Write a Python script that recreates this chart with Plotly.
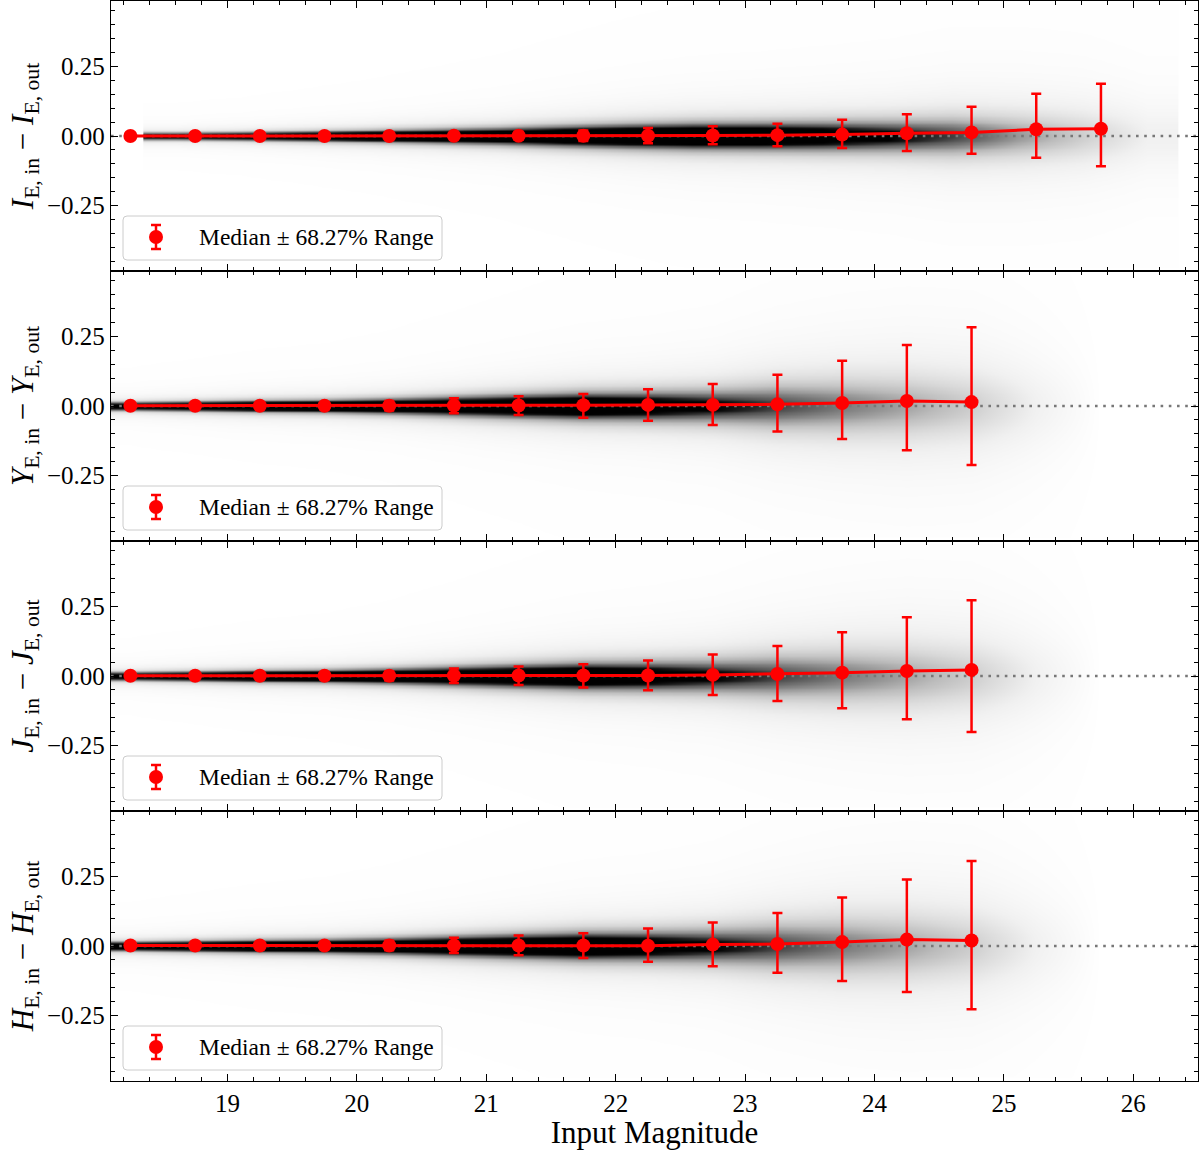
import numpy as np
import plotly.graph_objects as go
from plotly.subplots import make_subplots

# ---------------- data ----------------
X_RANGE = [18.1, 26.5]
Y_RANGE = [-0.485, 0.485]

# I band (top panel)
mags_I = [18.25, 18.75, 19.25, 19.75, 20.25, 20.75, 21.25, 21.75,
          22.25, 22.75, 23.25, 23.75, 24.25, 24.75, 25.25, 25.75]
med_I = [0.000, 0.000, 0.000, 0.000, 0.000, 0.001, 0.001, 0.001,
         0.001, 0.002, 0.003, 0.005, 0.010, 0.013, 0.024, 0.026]
upper_I = [0.004, 0.004, 0.005, 0.006, 0.008, 0.011, 0.014, 0.020,
           0.029, 0.035, 0.044, 0.058, 0.078, 0.105, 0.152, 0.188]
lower_I = [-0.004, -0.004, -0.005, -0.006, -0.007, -0.010, -0.013, -0.018,
           -0.026, -0.030, -0.037, -0.043, -0.054, -0.064, -0.078, -0.109]

# Y band
mags_Y = [18.25, 18.75, 19.25, 19.75, 20.25, 20.75, 21.25,
          21.75, 22.25, 22.75, 23.25, 23.75, 24.25, 24.75]
med_Y = [0.001, 0.001, 0.001, 0.001, 0.001, 0.002, 0.002,
         0.003, 0.004, 0.004, 0.006, 0.011, 0.018, 0.014]
upper_Y = [0.006, 0.007, 0.009, 0.012, 0.018, 0.028, 0.035,
           0.043, 0.060, 0.079, 0.112, 0.163, 0.219, 0.283]
lower_Y = [-0.005, -0.006, -0.008, -0.011, -0.016, -0.026, -0.032,
           -0.042, -0.053, -0.068, -0.092, -0.119, -0.159, -0.212]

# J band
mags_J = mags_Y
med_J = [0.001, 0.001, 0.001, 0.001, 0.001, 0.002, 0.002,
         0.002, 0.002, 0.004, 0.007, 0.012, 0.018, 0.022]
upper_J = [0.006, 0.007, 0.009, 0.012, 0.017, 0.027, 0.034,
           0.042, 0.056, 0.077, 0.108, 0.157, 0.211, 0.272]
lower_J = [-0.005, -0.006, -0.008, -0.011, -0.016, -0.025, -0.032,
           -0.041, -0.051, -0.068, -0.090, -0.116, -0.155, -0.201]

# H band
mags_H = mags_Y
med_H = [0.002, 0.002, 0.002, 0.002, 0.002, 0.002, 0.002,
         0.002, 0.001, 0.005, 0.007, 0.014, 0.023, 0.020]
upper_H = [0.007, 0.008, 0.010, 0.013, 0.019, 0.030, 0.038,
           0.046, 0.063, 0.084, 0.119, 0.174, 0.239, 0.305]
lower_H = [-0.004, -0.005, -0.007, -0.010, -0.015, -0.025, -0.033,
           -0.043, -0.057, -0.073, -0.096, -0.126, -0.165, -0.227]

# density background: column centres, core width (mag) and darkness level
hist_x_I = [18.6, 19.1, 19.6, 20.1, 20.6, 21.1, 21.6, 22.1,
            22.6, 23.1, 23.6, 24.1, 24.6, 25.1, 25.6, 26.1]
hist_w_I = [0.006, 0.007, 0.008, 0.009, 0.011, 0.013, 0.016, 0.020,
            0.024, 0.028, 0.035, 0.045, 0.060, 0.075, 0.090, 0.110]
hist_a_I = [3.0, 3.0, 3.5, 4.0, 4.0, 4.0, 4.0, 3.5,
            3.0, 2.4, 1.7, 1.15, 0.8, 0.5, 0.30, 0.12]

hist_x_YJH = [18.25, 18.75, 19.25, 19.75, 20.25, 20.75, 21.25, 21.75,
              22.25, 22.75, 23.25, 23.75, 24.25, 24.75, 25.25, 25.75]
hist_w_Y = [0.007, 0.008, 0.009, 0.010, 0.012, 0.016, 0.021, 0.027,
            0.035, 0.048, 0.070, 0.090, 0.110, 0.130, 0.150, 0.160]
hist_a_Y = [3.0, 3.5, 4.0, 4.0, 4.0, 3.5, 3.0, 2.5,
            1.7, 1.1, 0.8, 0.6, 0.45, 0.30, 0.12, 0.0]
hist_w_J = [0.007, 0.008, 0.009, 0.010, 0.012, 0.016, 0.021, 0.027,
            0.035, 0.048, 0.068, 0.088, 0.108, 0.128, 0.150, 0.160]
hist_a_J = [3.0, 3.5, 4.0, 4.0, 4.0, 3.5, 3.0, 2.5,
            1.7, 1.1, 0.8, 0.6, 0.45, 0.30, 0.12, 0.0]
hist_w_H = [0.008, 0.009, 0.010, 0.011, 0.013, 0.017, 0.022, 0.028,
            0.036, 0.050, 0.072, 0.095, 0.115, 0.135, 0.155, 0.165]
hist_a_H = [3.0, 3.5, 4.0, 4.0, 4.0, 3.5, 3.0, 2.5,
            1.7, 1.1, 0.8, 0.6, 0.45, 0.30, 0.12, 0.0]

labels = [
    "<i>I</i><sub>E, in</sub> − <i>I</i><sub>E, out</sub>",
    "<i>Y</i><sub>E, in</sub> − <i>Y</i><sub>E, out</sub>",
    "<i>J</i><sub>E, in</sub> − <i>J</i><sub>E, out</sub>",
    "<i>H</i><sub>E, in</sub> − <i>H</i><sub>E, out</sub>",
]
LEGEND_TEXT = "Median ± 68.27% Range"

bands = [
    (mags_I, med_I, upper_I, lower_I, hist_x_I, hist_w_I, hist_a_I),
    (mags_Y, med_Y, upper_Y, lower_Y, hist_x_YJH, hist_w_Y, hist_a_Y),
    (mags_J, med_J, upper_J, lower_J, hist_x_YJH, hist_w_J, hist_a_J),
    (mags_H, med_H, upper_H, lower_H, hist_x_YJH, hist_w_H, hist_a_H),
]

GREYS = [[0.0, "#ffffff"], [0.125, "#f0f0f0"], [0.25, "#d9d9d9"],
         [0.375, "#bdbdbd"], [0.5, "#969696"], [0.625, "#737373"],
         [0.75, "#525252"], [0.875, "#252525"], [1.0, "#000000"]]

FONT = "Liberation Serif"
W, H = 1200, 1150
ML, MR, MT, MB = 111, 2, 1, 69
plot_w = W - ML - MR
panel_h = (H - MT - MB) / 4.0

fig = make_subplots(rows=4, cols=1, shared_xaxes=True, vertical_spacing=0)

y_grid = np.linspace(-0.47, 0.47, 189)

for i, (mags, med, up, lo, hx, hw, ha) in enumerate(bands, start=1):
    hw_a = np.array(hw)
    ha_a = np.array(ha)
    u = y_grid[:, None] / hw_a[None, :]
    z = np.minimum(1.0, ha_a[None, :] * (1.0 + u ** 2) ** -1.1)
    fig.add_trace(go.Heatmap(x=hx, y=y_grid, z=z, zmin=0, zmax=1,
                             colorscale=GREYS, showscale=False,
                             zsmooth="best", hoverinfo="skip"),
                  row=i, col=1)
    fig.add_trace(go.Scatter(x=X_RANGE, y=[0, 0], mode="lines",
                             line=dict(color="#777777", width=2.6, dash="2.6px,5.6px"),
                             hoverinfo="skip", showlegend=False),
                  row=i, col=1)
    med_a = np.array(med)
    fig.add_trace(go.Scatter(
        x=mags, y=med_a, mode="lines+markers",
        line=dict(color="#ff0000", width=3),
        marker=dict(color="#ff0000", size=14),
        error_y=dict(type="data", symmetric=False,
                     array=np.array(up) - med_a,
                     arrayminus=med_a - np.array(lo),
                     color="#ff0000", thickness=2.5, width=5),
        showlegend=False, hoverinfo="skip"),
        row=i, col=1)

    xr = "x domain" if i == 1 else f"x{i} domain"
    yr = "y domain" if i == 1 else f"y{i} domain"

    def dx(px):
        return (px - ML) / plot_w

    def dy(px_from_panel_top):
        return 1 - px_from_panel_top / panel_h

    x0, x1 = dx(123), dx(442)
    y0, y1 = dy(259), dy(215)
    rx, ry = 4 / plot_w, 4 / panel_h
    path = (f"M {x0+rx},{y0} L {x1-rx},{y0} Q {x1},{y0} {x1},{y0+ry} "
            f"L {x1},{y1-ry} Q {x1},{y1} {x1-rx},{y1} L {x0+rx},{y1} "
            f"Q {x0},{y1} {x0},{y1-ry} L {x0},{y0+ry} Q {x0},{y0} {x0+rx},{y0} Z")
    fig.add_shape(type="path", path=path, xref=xr, yref=yr,
                  fillcolor="rgba(255,255,255,0.8)",
                  line=dict(color="#cccccc", width=1), layer="above")
    cx, cy = dx(156), dy(236)
    fig.add_shape(type="line", xref=xr, yref=yr, x0=cx, x1=cx,
                  y0=dy(248), y1=dy(224),
                  line=dict(color="#ff0000", width=2.5), layer="above")
    for cap in (224, 248):
        fig.add_shape(type="line", xref=xr, yref=yr,
                      x0=cx - 5 / plot_w, x1=cx + 5 / plot_w,
                      y0=dy(cap), y1=dy(cap),
                      line=dict(color="#ff0000", width=2.5), layer="above")
    fig.add_shape(type="circle", xref=xr, yref=yr,
                  x0=cx - 7 / plot_w, x1=cx + 7 / plot_w,
                  y0=cy - 7 / panel_h, y1=cy + 7 / panel_h,
                  fillcolor="#ff0000", line=dict(color="#ff0000", width=0),
                  layer="above")
    fig.add_annotation(x=dx(197), y=cy, xref=xr, yref=yr, text=LEGEND_TEXT,
                       showarrow=False, xanchor="left", yanchor="middle",
                       font=dict(family=FONT, size=23.5, color="black"))

    fig.update_yaxes(row=i, col=1, range=Y_RANGE, tickvals=[-0.25, 0, 0.25],
                     tickformat=".2f", ticks="inside", ticklen=7, tickwidth=1.2,
                     tickcolor="black", showline=True, linecolor="black",
                     linewidth=1.3, mirror="allticks", showgrid=False,
                     zeroline=False,
                     minor=dict(ticks="inside", dtick=0.05, tick0=0,
                                ticklen=4, tickwidth=1, tickcolor="black"),
                     title=dict(text=labels[i - 1],
                                font=dict(family=FONT, size=31), standoff=4),
                     tickfont=dict(family=FONT, size=25))
    fig.update_xaxes(row=i, col=1, range=X_RANGE, dtick=1, tick0=19,
                     ticks="inside", ticklen=7, tickwidth=1.2,
                     tickcolor="black", showline=True, linecolor="black",
                     linewidth=1.3, mirror="allticks", showgrid=False,
                     zeroline=False,
                     minor=dict(ticks="inside", dtick=0.2, tick0=19,
                                ticklen=4, tickwidth=1, tickcolor="black"),
                     tickfont=dict(family=FONT, size=25))

fig.update_xaxes(row=4, col=1, title=dict(text="Input Magnitude",
                                          font=dict(family=FONT, size=31),
                                          standoff=2))

fig.update_layout(width=W, height=H, margin=dict(l=ML, r=MR, t=MT, b=MB),
                  plot_bgcolor="white", paper_bgcolor="white",
                  font=dict(family=FONT, size=23, color="black"),
                  showlegend=False)

fig.write_html("out.html")
